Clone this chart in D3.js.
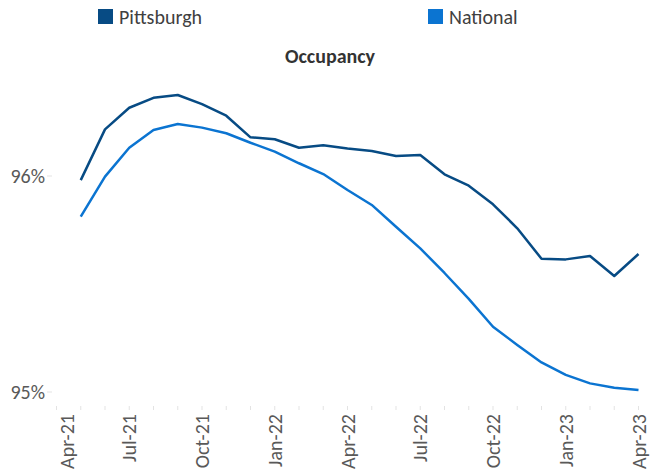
<!DOCTYPE html>
<html>
<head>
<meta charset="utf-8">
<script src="https://cdn.jsdelivr.net/npm/d3@7"></script>
<style>
  html, body { margin: 0; padding: 0; background: #fff; }
  svg { display: block; font-family: Carlito, Calibri, Lato, sans-serif; }
</style>
</head>
<body>
<svg id="chart" width="662" height="475"></svg>
<script>
// Axis categories (monthly, Apr-21 .. Apr-23)
const months = ["Apr-21","May-21","Jun-21","Jul-21","Aug-21","Sep-21","Oct-21","Nov-21","Dec-21",
  "Jan-22","Feb-22","Mar-22","Apr-22","May-22","Jun-22","Jul-22","Aug-22","Sep-22","Oct-22","Nov-22","Dec-22",
  "Jan-23","Feb-23","Mar-23","Apr-23"];
const tickLabels = ["Apr-21","Jul-21","Oct-21","Jan-22","Apr-22","Jul-22","Oct-22","Jan-23","Apr-23"];
const yTicks = [95, 96];
// Data months (May-21 .. Apr-23)
const dataMonths = months.slice(1);
const pittsburgh = [95.981, 96.216, 96.316, 96.362, 96.375, 96.333, 96.279, 96.179, 96.170, 96.131, 96.142, 96.127,
  96.116, 96.093, 96.097, 96.008, 95.955, 95.869, 95.758, 95.617, 95.614, 95.630, 95.537, 95.639];
const national = [95.812, 95.997, 96.131, 96.213, 96.241, 96.224, 96.198, 96.154, 96.113, 96.059, 96.009, 95.935,
  95.866, 95.765, 95.665, 95.551, 95.431, 95.302, 95.218, 95.137, 95.079, 95.040, 95.020, 95.009];
const seriesNames = ["Pittsburgh", "National"];
const colors = ["#074b84", "#0b74d1"];

const svg = d3.select("#chart");
const x = d3.scalePoint().domain(months).range([56.5, 638.5]);
const y = d3.scaleLinear().domain([95, 96]).range([392, 176]);

// x ticks
const xAxisY = 406;
svg.append("g").selectAll("line").data(months).join("line")
  .attr("x1", d => x(d)).attr("x2", d => x(d))
  .attr("y1", xAxisY).attr("y2", xAxisY + 4)
  .attr("stroke", "#e3e3e3").attr("stroke-width", 1);
svg.append("g").selectAll("text").data(tickLabels).join("text")
  .attr("transform", (d, i) => `translate(${x(d) + (i === 0 ? 10 : 0)},${xAxisY + 8}) rotate(-90)`)
  .attr("dy", "0.35em")
  .attr("text-anchor", "end")
  .attr("font-size", 20)
  .attr("fill", "#595959")
  .text(d => d);

// y ticks
svg.append("g").selectAll("line").data(yTicks).join("line")
  .attr("x1", 47).attr("x2", 52)
  .attr("y1", d => y(d)).attr("y2", d => y(d))
  .attr("stroke", "#e3e3e3");
svg.append("g").selectAll("text").data(yTicks).join("text")
  .attr("x", 45).attr("y", d => y(d)).attr("dy", "0.35em")
  .attr("text-anchor", "end").attr("font-size", 20).attr("fill", "#595959")
  .text(d => d + "%");

// lines
const line = d3.line().x(d => x(d.m)).y(d => y(d.v));
[pittsburgh, national].forEach((vals, i) => {
  svg.append("path")
    .datum(vals.map((v, j) => ({ m: dataMonths[j], v })))
    .attr("d", line)
    .attr("fill", "none")
    .attr("stroke", colors[i])
    .attr("stroke-width", 2.5)
    .attr("stroke-linejoin", "round");
});

// title
svg.append("text").attr("x", 330).attr("y", 63).attr("text-anchor", "middle")
  .attr("font-size", 20).attr("font-weight", "bold").attr("fill", "#333333")
  .text("Occupancy");

// legend
const legendX = [98, 428];
const lg = svg.append("g").selectAll("g").data(seriesNames).join("g")
  .attr("transform", (d, i) => `translate(${legendX[i]},9)`);
lg.append("rect").attr("width", 15).attr("height", 15).attr("fill", (d, i) => colors[i]);
lg.append("text").attr("x", 21).attr("y", 8).attr("dy", "0.35em")
  .attr("font-size", 20).attr("fill", "#404040").text(d => d);
</script>
</body>
</html>
